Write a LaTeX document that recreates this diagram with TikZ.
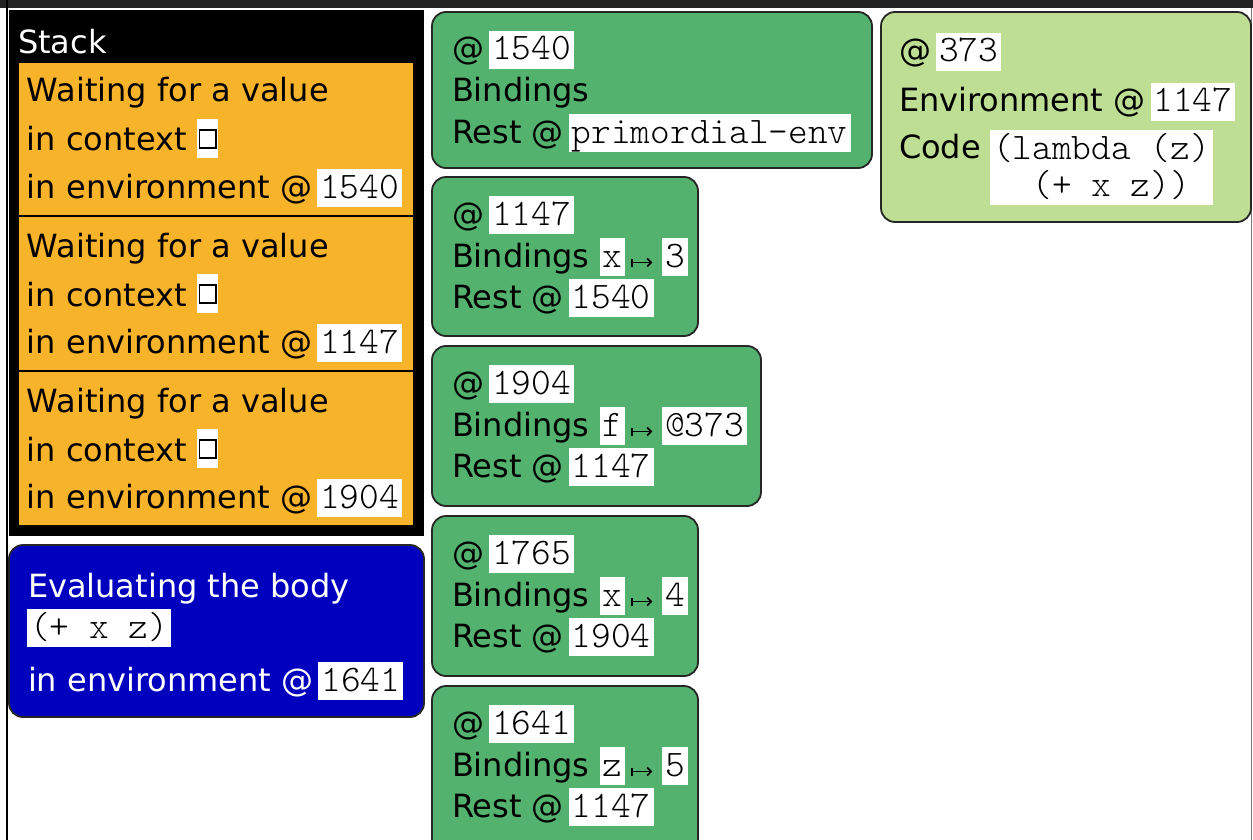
\documentclass[tikz,border=0pt]{standalone}
\usepackage{fontspec}
\newfontfamily\sansface{DejaVu Sans}
\newfontfamily\monoface{Latin Modern Mono Light}

\definecolor{frameorange}{RGB}{247,179,42}
\definecolor{envgreen}{RGB}{83,178,110}
\definecolor{closgreen}{RGB}{190,222,148}
\definecolor{evalblue}{RGB}{0,0,190}
\definecolor{topbar}{RGB}{35,35,35}
\definecolor{edgegray}{RGB}{120,120,120}

% label font and code chips
\newcommand{\lbl}{\sansface\fontsize{32}{38}\selectfont}
\newcommand{\mono}{\monoface\fontsize{37.5}{37}\selectfont}
\newcommand{\chipstrut}{\rule[-6pt]{0pt}{32pt}}
\newcommand{\chip}[1]{{\setlength{\fboxsep}{3pt}\colorbox{white}{\color{black}\mono\chipstrut\smash{#1}}}}
\newcommand{\at}{@\hspace{5pt}}
% binding arrow drawn as a small maps-to sign
\newcommand{\bindarrow}{\hspace{6pt}\begin{tikzpicture}[baseline=0pt,x=1pt,y=1pt]
  \draw[black,line width=1.6pt] (0,0.5) -- (0,8.5);
  \draw[black,line width=1.6pt,-{Straight Barb[length=4pt,width=8pt]}] (0,4.5) -- (20,4.5);
\end{tikzpicture}\hspace{9pt}}
% empty context hole: white backing with a framed square
\newcommand{\hole}{\begin{tikzpicture}[baseline=0pt,x=1pt,y=1pt]
  \fill[white] (0,-7) rectangle (21,32);
  \draw[black,line width=1.3pt] (2.5,3) rectangle (19,21);
\end{tikzpicture}}

\usetikzlibrary{arrows.meta}
\tikzset{
  txt/.style={anchor=base west, inner sep=0pt, outer sep=0pt, font=\lbl},
  wtxt/.style={txt, text=white},
  boxbase/.style={anchor=north west, inner sep=0pt, outer sep=0pt},
  stackbox/.style={boxbase, fill=black},
  framebox/.style={boxbase, fill=frameorange, draw=black, line width=1.2pt},
  envbox/.style={boxbase, fill=envgreen, draw=black!85, line width=1.8pt, rounded corners=14pt},
  closbox/.style={boxbase, fill=closgreen, draw=black!85, line width=1.8pt, rounded corners=14pt},
  evalbox/.style={boxbase, fill=evalblue, draw=black!85, line width=1.8pt, rounded corners=14pt},
  codechip/.style={anchor=north west, fill=white, inner sep=3pt, align=left, font=\mono},
}

\begin{document}
\begin{tikzpicture}[x=1pt,y=-1pt]
\useasboundingbox (0,0) rectangle (1253,840);
\clip (0,0) rectangle (1253,840);
\fill[white] (0,0) rectangle (1253,840);

% window edges
\fill[topbar] (0,0) rectangle (1253,8);
\draw[black, line width=2pt] (7,0) -- (7,840);
\draw[edgegray, line width=1pt] (1251.5,8) -- (1251.5,840);

% ---------------- stack ----------------
\node[stackbox, minimum width=415pt, minimum height=526pt] (stack) at (9,10) {};
\node[wtxt] (stacktitle) at (18,54) {Stack};

\node[framebox, minimum width=396pt, minimum height=154pt] (f1) at (18,62) {};
\node[txt] (f1a) at (27,102) {Waiting for a value};
\node[txt] (f1b) at (27,151) {in context \hole};
\node[txt] (f1c) at (27,198) {in environment \at\chip{1540}};

\node[framebox, minimum width=396pt, minimum height=155pt] (f2) at (18,216) {};
\node[txt] (f2a) at (27,257) {Waiting for a value};
\node[txt] (f2b) at (27,306) {in context \hole};
\node[txt] (f2c) at (27,353) {in environment \at\chip{1147}};

\node[framebox, minimum width=396pt, minimum height=155pt] (f3) at (18,371) {};
\node[txt] (f3a) at (27,412) {Waiting for a value};
\node[txt] (f3b) at (27,461) {in context \hole};
\node[txt] (f3c) at (27,508) {in environment \at\chip{1904}};

% ---------------- current evaluation ----------------
\node[evalbox, minimum width=415pt, minimum height=172pt] (eval) at (9,545) {};
\node[wtxt] (evala) at (28,597) {Evaluating the body};
\node[txt] (evalb) at (27,638) {\chip{(+ x z)}};
\node[wtxt] (evalc) at (28,691) {in environment \at\chip{1641}};

% ---------------- environments ----------------
\node[envbox, minimum width=440pt, minimum height=156pt] (e1540) at (432,12) {};
\node[txt] (e1540a) at (452,60) {\at\chip{1540}};
\node[txt] (e1540b) at (452,102) {Bindings};
\node[txt] (e1540c) at (452,143) {Rest \at\chip{primordial-env}};

\node[envbox, minimum width=266pt, minimum height=159pt] (e1147) at (432,177) {};
\node[txt] (e1147a) at (452,225) {\at\chip{1147}};
\node[txt] (e1147b) at (452,267) {Bindings \chip{x}\bindarrow\chip{3}};
\node[txt] (e1147c) at (452,308) {Rest \at\chip{1540}};

\node[envbox, minimum width=329pt, minimum height=160pt] (e1904) at (432,346) {};
\node[txt] (e1904a) at (452,394) {\at\chip{1904}};
\node[txt] (e1904b) at (452,436) {Bindings \chip{f}\bindarrow\chip{@373}};
\node[txt] (e1904c) at (452,477) {Rest \at\chip{1147}};

\node[envbox, minimum width=266pt, minimum height=160pt] (e1765) at (432,516) {};
\node[txt] (e1765a) at (452,564) {\at\chip{1765}};
\node[txt] (e1765b) at (452,606) {Bindings \chip{x}\bindarrow\chip{4}};
\node[txt] (e1765c) at (452,647) {Rest \at\chip{1904}};

\node[envbox, minimum width=266pt, minimum height=175pt] (e1641) at (432,686) {};
\node[txt] (e1641a) at (452,734) {\at\chip{1641}};
\node[txt] (e1641b) at (452,776) {Bindings \chip{z}\bindarrow\chip{5}};
\node[txt] (e1641c) at (452,817) {Rest \at\chip{1147}};

% ---------------- closure ----------------
\node[closbox, minimum width=370pt, minimum height=210pt] (c373) at (881,12) {};
\node[txt] (c373a) at (899,62) {\at\chip{373}};
\node[txt] (c373b) at (899,112) {Environment \at\chip{1147}};
\node[txt] (c373c) at (899,159) {Code};
\node[codechip] (c373code) at (990,130)
  {\chipstrut(lambda (z)\\\chipstrut\hphantom{xx}(+ x z))};
\end{tikzpicture}
\end{document}
